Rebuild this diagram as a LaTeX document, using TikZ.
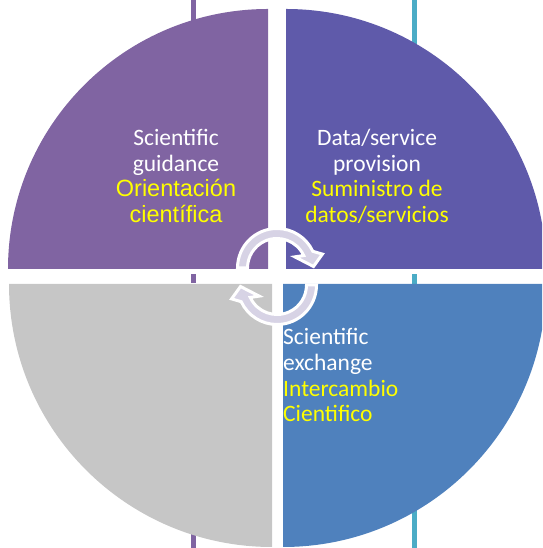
\documentclass[tikz,border=0pt]{standalone}
\usepackage{fontspec}
\setmainfont{Carlito}
\newfontfamily\arialf{Liberation Sans}
\definecolor{qpurple}{RGB}{128,100,162}
\definecolor{qindigo}{RGB}{95,90,170}
\definecolor{qgray}{RGB}{198,198,198}
\definecolor{qblue}{RGB}{79,129,189}
\definecolor{qcyan}{RGB}{75,172,198}
\definecolor{lav}{RGB}{215,211,229}
\definecolor{ylw}{RGB}{255,255,0}
\begin{document}
\begin{tikzpicture}[x=1pt,y=1pt,
  every node/.style={inner sep=0pt, font=\fontsize{23.5}{25.7}\selectfont},
  wtxt/.style={text=white, anchor=base},
  ytxt/.style={text=ylw, anchor=base},
  wtxtl/.style={text=white, anchor=base west},
  ytxtl/.style={text=ylw, anchor=base west},
  cyclearrow/.style={fill=lav, draw=white, line width=3pt, line join=miter}]
\useasboundingbox (0,0) rectangle (542,548);
\clip (0,0) rectangle (542,548);
% vertical lines behind
\fill[qpurple] (191,548) rectangle (196,520);
\fill[qpurple] (191,274) rectangle (196,265);
\fill[qpurple] (191,20) rectangle (196,0);
\fill[qcyan] (412,548) rectangle (417,500);
\fill[qcyan] (412,274) rectangle (417,263);
\fill[qcyan] (412,45) rectangle (417,0);
% quadrants
\fill[qpurple] (268,279) -- ++(-260,0) arc[start angle=180, end angle=90, radius=260] -- cycle;
\fill[qindigo] (286,279) -- ++(0,260) arc[start angle=90, end angle=0, radius=260] -- cycle;
\fill[qgray] (272,264) -- ++(0,-263) arc[start angle=270, end angle=180, radius=263] -- cycle;
\fill[qblue] (283,264) -- ++(263,0) arc[start angle=0, end angle=-90, radius=263] -- cycle;
% cycle arrows
\begin{scope}[shift={(277,280)}]
\path[cyclearrow] (180:29.5) -- (180:39.5) arc[start angle=180, end angle=25, radius=39.5]
  -- (17:47.5) -- (36.5,1.5) -- (32:21) -- (25:29.5) arc[start angle=25, end angle=180, radius=29.5] -- cycle;
\end{scope}
\begin{scope}[shift={(277,263)}, rotate=180]
\path[cyclearrow] (180:29.5) -- (180:39.5) arc[start angle=180, end angle=25, radius=39.5]
  -- (17:47.5) -- (36.5,1.5) -- (32:21) -- (25:29.5) arc[start angle=25, end angle=180, radius=29.5] -- cycle;
\end{scope}
% texts top-left
\node[wtxt] (tl1) at (176,402) {Scientific};
\node[wtxt] (tl2) at (176,376.5) {guidance};
\node[ytxt,font=\arialf\fontsize{23.5}{25.7}\selectfont] (tl3) at (176,351) {Orientación};
\node[ytxt,font=\arialf\fontsize{23.5}{25.7}\selectfont] (tl4) at (176,325.3) {científica};
% texts top-right
\node[wtxt] (tr1) at (377,402) {Data/service};
\node[wtxt] (tr2) at (377,376.5) {provision};
\node[ytxt] (tr3) at (377,351) {Suministro de};
\node[ytxt] (tr4) at (377,325.3) {datos/servicios};
% texts bottom-right
\node[wtxtl] (br1) at (283,203) {Scientific};
\node[wtxtl] (br2) at (283,177) {exchange};
\node[ytxtl] (br3) at (283,151.3) {Intercambio};
\node[ytxtl] (br4) at (283,126.3) {Cientifico};
\end{tikzpicture}
\end{document}
